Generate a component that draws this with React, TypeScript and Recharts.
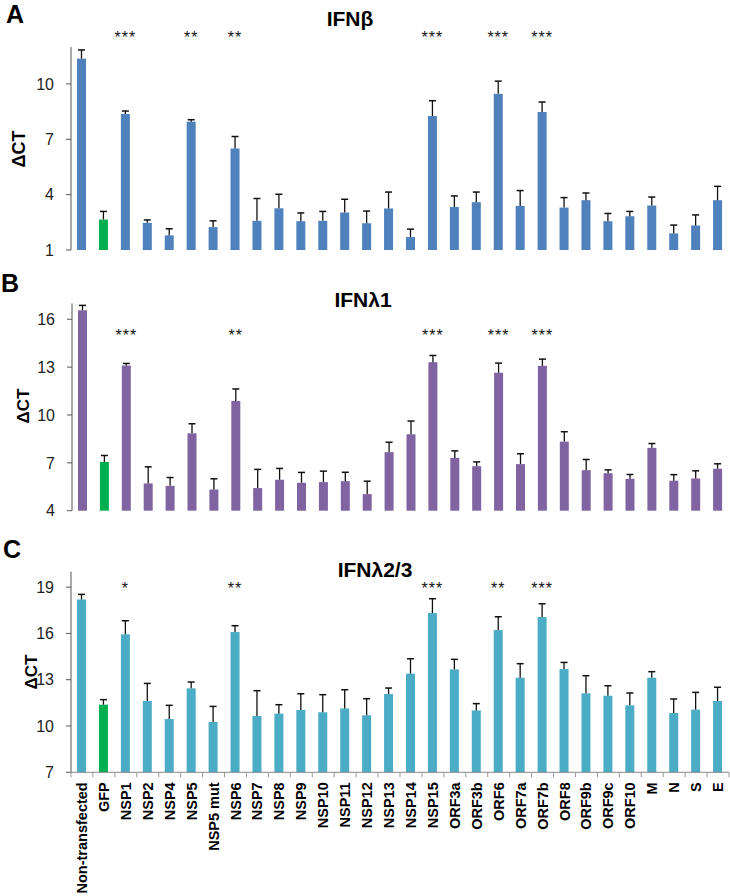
import { BarChart, Bar, XAxis, YAxis, LabelList } from "recharts"

const categories = [
  "Non-transfected", "GFP", "NSP1", "NSP2", "NSP4", "NSP5", "NSP5 mut", "NSP6", "NSP7", "NSP8",
  "NSP9", "NSP10", "NSP11", "NSP12", "NSP13", "NSP14", "NSP15", "ORF3a", "ORF3b", "ORF6",
  "ORF7a", "ORF7b", "ORF8", "ORF9b", "ORF9c", "ORF10", "M", "N", "S", "E",
]

const ifnbMean = [11.37, 2.65, 8.37, 2.47, 1.79, 7.95, 2.24, 6.5, 2.58, 3.26, 2.56, 2.58, 3.03, 2.45, 3.25, 1.7, 8.26, 3.33, 3.59, 9.46, 3.39, 8.48, 3.3, 3.7, 2.56, 2.83, 3.41, 1.9, 2.33, 3.7]
const ifnbErr = [0.47, 0.44, 0.16, 0.16, 0.36, 0.11, 0.34, 0.65, 1.21, 0.76, 0.45, 0.51, 0.72, 0.66, 0.89, 0.43, 0.83, 0.6, 0.55, 0.69, 0.83, 0.54, 0.54, 0.39, 0.42, 0.26, 0.46, 0.45, 0.57, 0.75]
const ifnbSig = ["", "", "***", "", "", "**", "", "**", "", "", "", "", "", "", "", "", "***", "", "", "***", "", "***", "", "", "", "", "", "", "", ""]

const ifnl1Mean = [16.56, 7.06, 13.1, 5.71, 5.56, 8.85, 5.33, 10.88, 5.42, 5.94, 5.75, 5.79, 5.85, 5.04, 7.67, 8.79, 13.31, 7.31, 6.79, 12.65, 6.92, 13.08, 8.33, 6.54, 6.35, 6.0, 7.94, 5.88, 6.02, 6.63]
const ifnl1Err = [0.31, 0.4, 0.13, 1.04, 0.52, 0.6, 0.67, 0.75, 1.17, 0.71, 0.65, 0.69, 0.56, 0.81, 0.62, 0.83, 0.42, 0.44, 0.27, 0.6, 0.65, 0.42, 0.62, 0.67, 0.21, 0.27, 0.27, 0.38, 0.48, 0.31]
const ifnl1Sig = ["", "", "***", "", "", "", "", "**", "", "", "", "", "", "", "", "", "***", "", "", "***", "", "***", "", "", "", "", "", "", "", ""]

const ifnl23Mean = [18.2, 11.38, 15.94, 11.62, 10.45, 12.44, 10.26, 16.09, 10.65, 10.8, 11.04, 10.89, 11.14, 10.69, 12.07, 13.39, 17.32, 13.67, 11.01, 16.22, 13.13, 17.06, 13.69, 12.12, 11.96, 11.34, 13.13, 10.84, 11.06, 11.62]
const ifnl23Err = [0.33, 0.33, 0.88, 1.14, 0.89, 0.41, 1.01, 0.41, 1.64, 0.58, 1.05, 1.14, 1.21, 1.08, 0.39, 0.97, 0.93, 0.65, 0.44, 0.86, 0.91, 0.86, 0.43, 1.14, 0.65, 0.8, 0.39, 0.91, 1.12, 0.89]
const ifnl23Sig = ["", "", "*", "", "", "", "", "**", "", "", "", "", "", "", "", "", "***", "", "", "**", "", "***", "", "", "", "", "", "", "", ""]

const FONT = "'Liberation Sans', Arial, sans-serif"
const GFP_GREEN = "#00B050"

const buildRows = (mean: number[], err: number[], sig: string[]) =>
  categories.map((name, i) => ({ name, value: mean[i], err: err[i], sig: sig[i] }))

// bar + upper-only error whisker, scaled from the bar's own pixel height
const makeShape = (color: string, min: number) => (props: any) => {
  const { x, y, width, height, payload } = props
  const k = height / (payload.value - min)
  const ey = y - payload.err * k
  const cx = x + width / 2
  return (
    <g>
      <rect x={x} y={y} width={width} height={height} fill={payload.name === "GFP" ? GFP_GREEN : color} />
      <line x1={cx} x2={cx} y1={y} y2={ey} stroke="#111" strokeWidth={1.3} />
      <line x1={cx - 3.5} x2={cx + 3.5} y1={ey} y2={ey} stroke="#111" strokeWidth={1.5} />
    </g>
  )
}

const makeStars = (starY: number) => (props: any) => {
  const { x, width, value } = props
  if (!value) return null
  return (
    <text x={Number(x) + Number(width) / 2} y={starY} textAnchor="middle" fontSize={16} letterSpacing={1} fill="#111" fontFamily={FONT}>
      {value}
    </text>
  )
}

const CategoryTick = (props: any) => {
  const { x, y, payload, index } = props
  const off = payload.offset ?? 10.97
  return (
    <g>
      <line x1={x - off} x2={x - off} y1={y} y2={y + 5} stroke="#999" />
      {index === categories.length - 1 && <line x1={x + off} x2={x + off} y1={y} y2={y + 5} stroke="#999" />}
      <text
        transform={`translate(${x},${y + 10}) rotate(-90)`}
        textAnchor="end"
        dominantBaseline="central"
        fontSize={14.5}
        fontWeight="bold"
        fill="#000"
        fontFamily={FONT}
      >
        {payload.value}
      </text>
    </g>
  )
}

interface PanelProps {
  data: Array<{ name: string; value: number; err: number; sig: string }>
  top: number
  height: number
  margin: { top: number; right: number; bottom: number; left: number }
  domain: [number, number]
  ticks: number[]
  color: string
  starY: number
  yAxisWidth: number
  showCategories?: boolean
  xAxisHeight?: number
}

function Panel({ data, top, height, margin, domain, ticks, color, starY, yAxisWidth, showCategories, xAxisHeight }: PanelProps) {
  return (
    <div style={{ position: "absolute", left: 0, top }}>
      <BarChart width={730} height={height} data={data} margin={margin} barSize={9}>
        {showCategories ? (
          <XAxis
            dataKey="name"
            interval={0}
            height={xAxisHeight}
            tickLine={false}
            tickSize={0}
            tickMargin={0}
            axisLine={{ stroke: "#888" }}
            tick={<CategoryTick />}
          />
        ) : (
          <XAxis dataKey="name" height={0} tick={false} tickLine={false} axisLine={{ stroke: "#111" }} />
        )}
        <YAxis
          type="number"
          domain={domain}
          ticks={ticks}
          width={yAxisWidth}
          tickSize={5}
          tickMargin={12}
          axisLine={{ stroke: "#555" }}
          tickLine={{ stroke: "#555" }}
          tick={{ fontSize: 16, fill: "#222", fontFamily: FONT }}
        />
        <Bar dataKey="value" shape={makeShape(color, domain[0])} isAnimationActive={false}>
          <LabelList dataKey="sig" content={makeStars(starY)} />
        </Bar>
      </BarChart>
    </div>
  )
}

export default function App() {
  const ifnb = buildRows(ifnbMean, ifnbErr, ifnbSig)
  const ifnl1 = buildRows(ifnl1Mean, ifnl1Err, ifnl1Sig)
  const ifnl23 = buildRows(ifnl23Mean, ifnl23Err, ifnl23Sig)

  return (
    <div style={{ position: "absolute", left: 0, top: 0, width: 730, height: 896, background: "#fff", fontFamily: FONT }}>
      <Panel
        data={ifnb}
        top={0}
        height={260}
        margin={{ top: 47, right: 1, bottom: 10, left: 0 }}
        domain={[1, 12]}
        ticks={[1, 4, 7, 10]}
        color="#4F81BD"
        starY={43}
        yAxisWidth={71}
      />
      <Panel
        data={ifnl1}
        top={270}
        height={250}
        margin={{ top: 33.3, right: 1, bottom: 9.3, left: 0 }}
        domain={[4, 17]}
        ticks={[4, 7, 10, 13, 16]}
        color="#8064A2"
        starY={71}
        yAxisWidth={72}
      />
      <Panel
        data={ifnl23}
        top={530}
        height={366}
        margin={{ top: 41.7, right: 1, bottom: 0, left: 0 }}
        domain={[7, 20]}
        ticks={[7, 10, 13, 16, 19]}
        color="#4BACC6"
        starY={64}
        yAxisWidth={71}
        showCategories
        xAxisHeight={123.7}
      />
      <svg width={730} height={896} style={{ position: "absolute", left: 0, top: 0, pointerEvents: "none" }}>
        <g fontFamily={FONT} fontWeight="bold" fill="#000">
          <text x={6} y={23} fontSize={25}>A</text>
          <text x={1} y={292} fontSize={25}>B</text>
          <text x={3} y={558} fontSize={25}>C</text>
          <text x={350} y={26} fontSize={21} textAnchor="middle">IFNβ</text>
          <text x={363} y={307} fontSize={21} textAnchor="middle">IFNλ1</text>
          <text x={375} y={577} fontSize={21} textAnchor="middle">IFNλ2/3</text>
          <text transform="translate(19,149) rotate(-90)" fontSize={18} textAnchor="middle" dominantBaseline="central">ΔCT</text>
          <text transform="translate(23,406) rotate(-90)" fontSize={17} textAnchor="middle" dominantBaseline="central">ΔCT</text>
          <text transform="translate(31,672) rotate(-90)" fontSize={17} textAnchor="middle" dominantBaseline="central">ΔCT</text>
        </g>
      </svg>
    </div>
  )
}
